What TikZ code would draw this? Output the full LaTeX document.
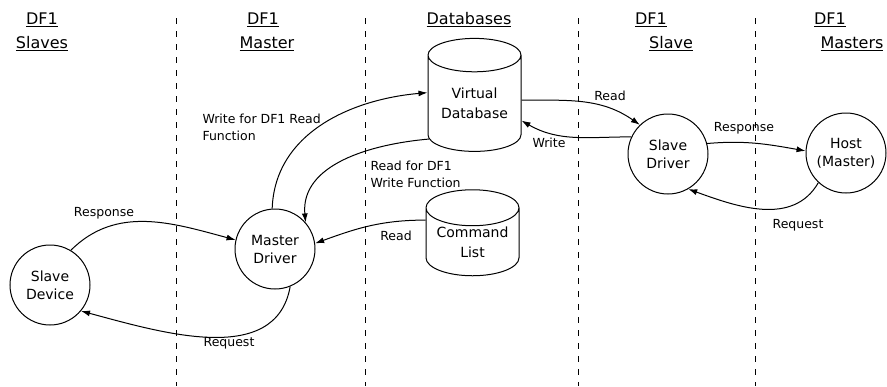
\documentclass[tikz,border=0pt]{standalone}
\usepackage{fontspec}
\setmainfont{DejaVu Sans}
\usepackage{tikz}
\usetikzlibrary{arrows.meta,shapes.geometric}

\tikzset{
  station/.style={circle,draw,minimum size=80pt,inner sep=0pt,align=center,
    font=\fontsize{14}{18}\selectfont},
  database/.style={cylinder,draw,shape border rotate=90,aspect=0.5,
    minimum width=93pt,minimum height=113pt,inner sep=0pt,align=center,
    font=\fontsize{14}{20}\selectfont},
  flowlabel/.style={align=left,inner sep=0pt,font=\fontsize{12.5}{17}\selectfont},
  heading/.style={inner sep=0pt,font=\fontsize{16}{20}\selectfont},
  divider/.style={dash pattern=on 6pt off 7pt},
}

\begin{document}
\begin{tikzpicture}[x=1pt,y=-1pt,line width=1pt,>={Latex[length=9pt,width=6pt]}]
    \useasboundingbox (0,0) rectangle (887,386);
    \foreach \x in {176,365,578,755}
      \draw[divider] (\x,18) -- (\x,386);
    % column headings
    \node[heading] (slvtop) at (42,20) {\underline{DF1}};
    \node[heading] (slvbot) at (42,44) {\underline{Slaves}};
    \node[heading] (msttop) at (263,20) {\underline{DF1}};
    \node[heading] (mstbot) at (267,44) {\underline{Master}};
    \node[heading] (dbtop) at (469,20) {\underline{Databases}};
    \node[heading] (sdtop) at (651,20) {\underline{DF1}};
    \node[heading] (sdbot) at (671,44) {\underline{Slave}};
    \node[heading] (hmtop) at (830,20) {\underline{DF1}};
    \node[heading] (hmbot) at (852,44) {\underline{Masters}};
    % drivers and databases
    \node[station] (sdev) at (50,285) {Slave\\Device};
    \node[station] (mdrv) at (275,249) {Master\\Driver};
    \node[station] (sdrv) at (668,154) {Slave\\Driver};
    \node[station] (host) at (846,153) {Host\\(Master)};
    \node[database] (vdb) at (474.5,103.5) {Virtual\\Database};
    \node[database,minimum height=86pt] (clist) at (472.5,242) {Command\\List};
    % data flow
    \draw[->] (mdrv.94) to[out=88,in=185] (vdb.167);
    \draw[->] (vdb.218) to[out=185,in=95] (mdrv.41);
    \draw[->] (clist.155) to[out=180,in=20] (mdrv.8);
    \draw[->] (sdev.59) to[out=45,in=165] (mdrv.167);
    \draw[->] (mdrv.292) to[out=-100,in=-15] (sdev.320);
    \draw[->] (vdb.4) to[out=0,in=145] (sdrv.134);
    \draw[->] (sdrv.155) to[out=180,in=-30] (vdb.340);
    \draw[->] (sdrv.15) to[out=5,in=170] (host.177);
    \draw[->] (host.227) to[out=-120,in=-20] (sdrv.300);
    \node[flowlabel,anchor=west] (wrlbl) at (202,127) {Write for DF1 Read\\Function};
    \node[flowlabel,anchor=west] (rdlbl) at (370,174) {Read for DF1\\Write Function};
    \node[flowlabel] (cllbl) at (396,236) {Read};
    \node[flowlabel] (sresp) at (104,213) {Response};
    \node[flowlabel] (sreq) at (229,343) {Request};
    \node[flowlabel] (vread) at (610,96) {Read};
    \node[flowlabel] (vwrite) at (549,143) {Write};
    \node[flowlabel] (hresp) at (744,128) {Response};
    \node[flowlabel] (hreq) at (798,225) {Request};
\end{tikzpicture}
\end{document}
